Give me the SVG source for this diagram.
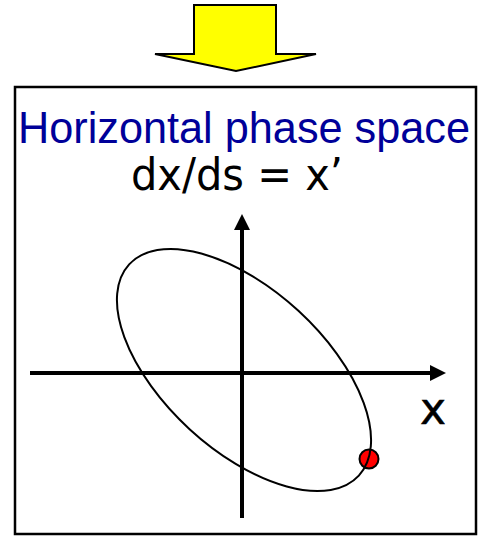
<svg xmlns="http://www.w3.org/2000/svg" width="479" height="538" viewBox="0 0 479 538">
  <defs>
    <style>
      .title { font-family: "Liberation Sans", "DejaVu Sans", sans-serif; font-size: 44px; fill: #000099; }
      .eq { font-family: "DejaVu Sans", "Liberation Sans", sans-serif; font-size: 44px; fill: #000000; }
      .axis { stroke: #000000; stroke-width: 4; fill: none; }
      .orbit { stroke: #000000; stroke-width: 2; fill: none; }
    </style>
  </defs>
  <rect x="0" y="0" width="479" height="538" fill="#ffffff"/>
  <g id="arrow">
    <polygon points="194,5 276,5 276,54 316,54 236,71 155,54 194,54" fill="#ffff00" stroke="#000000" stroke-width="2" stroke-linejoin="miter"/>
  </g>
  <g id="panel">
    <rect x="15" y="87" width="461" height="447" fill="#ffffff" stroke="#000000" stroke-width="2.5"/>
    <text class="title" x="18" y="143" textLength="452" lengthAdjust="spacingAndGlyphs">Horizontal phase space</text>
    <text class="eq" x="131" y="190" textLength="212" lengthAdjust="spacingAndGlyphs">dx/ds = x’</text>
  </g>
  <g id="axes">
    <line class="axis" x1="30" y1="373" x2="432" y2="373"/>
    <polygon points="430,365 446,373 430,381" fill="#000000"/>
    <line class="axis" x1="242" y1="518" x2="242" y2="228"/>
    <polygon points="234,230 242,214 250,230" fill="#000000"/>
    <text class="eq" x="433" y="424" text-anchor="middle" font-size="48" stroke="#000000" stroke-width="0.5">x</text>
  </g>
  <g id="particle">
    <circle cx="369" cy="459" r="9.5" fill="#ff0000" stroke="#000000" stroke-width="2"/>
  </g>
  <g id="orbit">
    <ellipse class="orbit" cx="244" cy="370" rx="156" ry="80.4" transform="rotate(42.6 244 370)"/>
  </g>
</svg>
